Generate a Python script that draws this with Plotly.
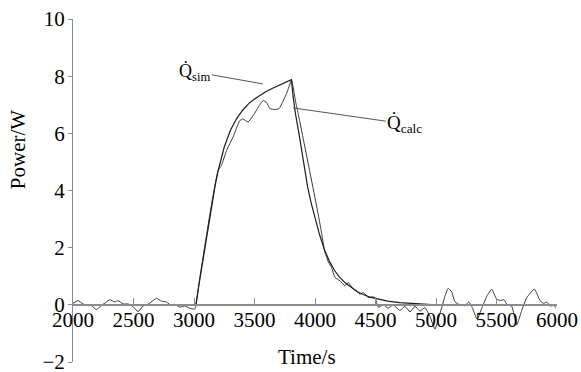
import plotly.graph_objects as go

# ---- data ----
sim_t = [2000, 3015, 3035, 3050, 3075, 3100, 3125, 3150, 3175, 3200, 3225, 3250, 3300, 3350,
         3400, 3450, 3500, 3550, 3600, 3650, 3700, 3750, 3805, 3820, 3840, 3873, 3914,
         3940, 3969, 4000, 4038, 4079, 4120, 4162, 4200, 4250, 4299, 4350, 4400, 4452,
         4537, 4600, 4700, 4800, 4893, 5000, 6000]
sim_v = [0.0, 0.0, 0.55, 0.95, 1.65, 2.3, 2.97, 3.6, 4.18, 4.7, 5.15, 5.52, 6.1, 6.5,
         6.8, 7.03, 7.2, 7.35, 7.47, 7.58, 7.67, 7.76, 7.88, 7.25, 6.65, 5.85, 4.7,
         4.1, 3.55, 3.05, 2.45, 1.92, 1.52, 1.2, 0.98, 0.77, 0.61, 0.46, 0.36, 0.27,
         0.19, 0.13, 0.08, 0.045, 0.02, 0.0, 0.0]

calc_t = [2000, 2041, 2083, 2124, 2150, 2193, 2235, 2276, 2304, 2345, 2372, 2414, 2455,
          2496, 2538, 2579, 2620, 2662, 2690, 2731, 2772, 2814, 2841, 2883, 2924, 2965,
          3006, 3015, 3050, 3100, 3150, 3199, 3227, 3269, 3323, 3379, 3406, 3447, 3489,
          3544, 3572, 3600, 3627, 3668, 3704, 3765, 3806, 3840, 3870, 3900, 3955, 4010,
          4051, 4079, 4110, 4137, 4165, 4206, 4247, 4275, 4316, 4344, 4371, 4399, 4440,
          4468, 4495, 4523, 4564, 4605, 4647, 4702, 4743, 4785, 4826, 4867, 4909, 4950,
          4991, 5033, 5074, 5101, 5130, 5157, 5198, 5239, 5270, 5300, 5340, 5380, 5420,
          5460, 5501, 5530, 5560, 5590, 5626, 5667, 5708, 5750, 5813, 5860, 5890, 5915,
          5945, 5970, 5990]
calc_v = [0.05, 0.15, 0.03, -0.03, -0.02, -0.17, -0.02, 0.1, 0.18, 0.1, 0.15, 0.03, 0.03,
          -0.06, -0.24, -0.04, 0.02, 0.15, 0.23, 0.13, 0.1, -0.03, 0.02, -0.08, -0.04, -0.12,
          -0.15, -0.05, 1.0, 2.35, 3.65, 4.7, 4.88, 5.4, 5.87, 6.45, 6.5, 6.4, 6.62,
          7.0, 7.15, 7.08, 6.87, 6.83, 6.87, 7.39, 7.86, 7.1, 6.5, 5.87, 4.7, 3.53,
          2.6, 1.89, 1.5, 1.3, 0.96, 0.84, 0.67, 0.78, 0.55, 0.49, 0.37, 0.43, 0.26,
          0.28, 0.26, -0.09, 0.0, -0.12, 0.0, -0.2, -0.05, -0.25, -0.05, -0.22, -0.1, -0.4,
          -0.85, -0.3, 0.3, 0.58, 0.45, 0.1, 0.0, -0.03, 0.1, -0.1, -0.5, -0.1, 0.3,
          0.55, 0.2, 0.15, 0.18, 0.0, -0.05, -0.7, -0.2, 0.25, 0.55, 0.15, 0.05, 0.1,
          -0.05, 0.0, -0.1]

x_ticks = [2000, 2500, 3000, 3500, 4000, 4500, 5000, 5500, 6000]
y_ticks = [-2, 0, 2, 4, 6, 8, 10]
y_ticktext = ["\u22122", "0", "2", "4", "6", "8", "10"]

FONT = "Liberation Serif"

fig = go.Figure()
fig.add_trace(go.Scatter(x=calc_t, y=calc_v, mode="lines",
                         line=dict(color="#3a3a3a", width=1, shape="spline", smoothing=0.4),
                         hoverinfo="skip", showlegend=False))
fig.add_trace(go.Scatter(x=sim_t, y=sim_v, mode="lines",
                         line=dict(color="#1e1e1e", width=1.2),
                         hoverinfo="skip", showlegend=False))

fig.update_layout(
    width=581, height=372,
    margin=dict(l=73, r=24, t=19, b=10),
    paper_bgcolor="white", plot_bgcolor="white",
    font=dict(family=FONT, color="black"),
    xaxis=dict(range=[2000, 6000], tickvals=x_ticks, ticktext=[str(v) for v in x_ticks],
               showgrid=False, zeroline=False, showline=True, linecolor="#8c8c8c",
               linewidth=1.5, ticks="inside", ticklen=6, tickcolor="#8c8c8c",
               tickfont=dict(family=FONT, size=21, color="black"),
               anchor="free", position=2 / 12, ticklabelstandoff=-4,
               ticklabeloverflow="allow", automargin=False),
    yaxis=dict(range=[-2, 10], tickvals=y_ticks, ticktext=y_ticktext,
               showgrid=False, zeroline=False, showline=True, linecolor="#8c8c8c",
               linewidth=1, ticks="outside", ticklen=4, tickcolor="#8c8c8c",
               tickfont=dict(family=FONT, size=21, color="black"),
               ticklabelstandoff=-1, ticklabeloverflow="allow", automargin=False),
)

fig.add_annotation(text="Power/W", xref="paper", yref="paper", x=-0.112, y=0.62,
                   textangle=-90, showarrow=False, xanchor="center", yanchor="middle",
                   font=dict(family=FONT, size=21, color="black"))
fig.add_annotation(text="Time/s", xref="paper", yref="paper", x=0.483, y=0.015,
                   showarrow=False, xanchor="center", yanchor="middle",
                   font=dict(family=FONT, size=21, color="black"))

fig.add_annotation(text="Q\u0307<sub>sim</sub>", x=3569, y=7.73, xref="x", yref="y",
                   ax=-68, ay=-12, showarrow=True, arrowhead=0, arrowwidth=1,
                   arrowcolor="#555555", standoff=0,
                   font=dict(family=FONT, size=18, color="black"))
fig.add_annotation(text="Q\u0307<sub>calc</sub>", x=3817, y=6.89, xref="x", yref="y",
                   ax=112, ay=16, showarrow=True, arrowhead=0, arrowwidth=1,
                   arrowcolor="#555555", standoff=0,
                   font=dict(family=FONT, size=19, color="black"))

# remove the browser's default 8px page margin so the figure fills the window exactly
fig.write_html("out.html", config={"displayModeBar": False},
               post_script="document.body.style.margin='0px';")
